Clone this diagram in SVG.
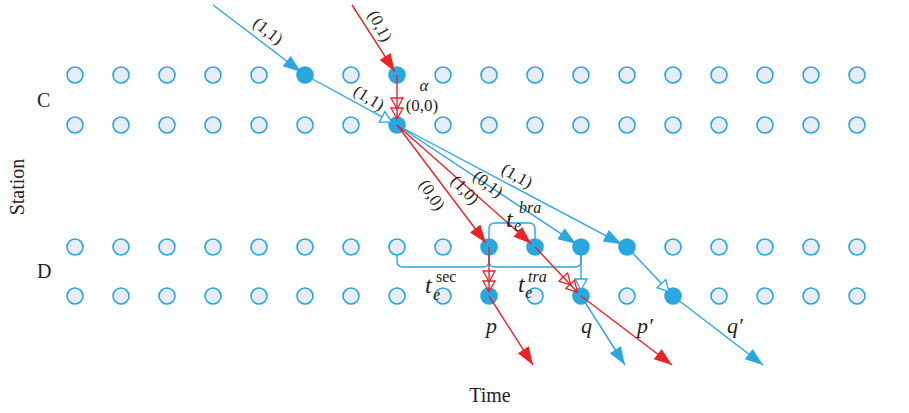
<svg xmlns="http://www.w3.org/2000/svg" width="909" height="413" viewBox="0 0 909 413">
<defs>
<style>
.dot{fill:#e6edf6;stroke:#2aa7df;stroke-width:1.6}
.on{fill:#2aa7df;stroke:#2aa7df;stroke-width:1.6}
.b{stroke:#2aa7df;stroke-width:1.4;fill:none}
.r{stroke:#ec2227;stroke-width:1.4;fill:none}
.t{font-family:"Liberation Serif",serif;fill:#231f20}
.lbl{font-size:17px}
.it{font-style:italic}
</style>
<marker id="fb" markerUnits="userSpaceOnUse" viewBox="-19 -8 20 16" markerWidth="20" markerHeight="16" refX="0" refY="0" orient="auto"><path d="M0,0 L-18,-6.5 L-18,6.5Z" fill="#2aa7df"/></marker>
<marker id="fr" markerUnits="userSpaceOnUse" viewBox="-19 -8 20 16" markerWidth="20" markerHeight="16" refX="0" refY="0" orient="auto"><path d="M0,0 L-18,-6.5 L-18,6.5Z" fill="#ec2227"/></marker>
<marker id="ob" markerUnits="userSpaceOnUse" viewBox="-14 -8 16 16" markerWidth="16" markerHeight="16" refX="0" refY="0" orient="auto"><path d="M0,0 L-11,-6 L-11,6Z" fill="#fff" stroke="#2aa7df" stroke-width="1.3"/></marker>
<marker id="or2" markerUnits="userSpaceOnUse" viewBox="-24 -8 26 16" markerWidth="26" markerHeight="16" refX="0" refY="0" orient="auto"><path d="M-10,0 L-21,-6 L-21,6Z M0,0 L-11,-6 L-11,6Z" fill="none" stroke="#ec2227" stroke-width="1.3"/></marker>
</defs>
<rect width="909" height="413" fill="#fff"/>
<g id="grid">
<g id="rowC1">
<circle class="dot" cx="75" cy="75" r="8"/><circle class="dot" cx="121" cy="75" r="8"/><circle class="dot" cx="167" cy="75" r="8"/><circle class="dot" cx="213" cy="75" r="8"/><circle class="dot" cx="259" cy="75" r="8"/><circle class="on" cx="305" cy="75" r="8"/><circle class="dot" cx="351" cy="75" r="8"/><circle class="on" cx="397" cy="75" r="8"/><circle class="dot" cx="443" cy="75" r="8"/><circle class="dot" cx="489" cy="75" r="8"/><circle class="dot" cx="535" cy="75" r="8"/><circle class="dot" cx="581" cy="75" r="8"/><circle class="dot" cx="627" cy="75" r="8"/><circle class="dot" cx="673" cy="75" r="8"/><circle class="dot" cx="719" cy="75" r="8"/><circle class="dot" cx="765" cy="75" r="8"/><circle class="dot" cx="811" cy="75" r="8"/><circle class="dot" cx="857" cy="75" r="8"/>
</g>
<g id="rowC2">
<circle class="dot" cx="75" cy="125" r="8"/><circle class="dot" cx="121" cy="125" r="8"/><circle class="dot" cx="167" cy="125" r="8"/><circle class="dot" cx="213" cy="125" r="8"/><circle class="dot" cx="259" cy="125" r="8"/><circle class="dot" cx="305" cy="125" r="8"/><circle class="dot" cx="351" cy="125" r="8"/><circle class="on" cx="397" cy="125" r="8"/><circle class="dot" cx="443" cy="125" r="8"/><circle class="dot" cx="489" cy="125" r="8"/><circle class="dot" cx="535" cy="125" r="8"/><circle class="dot" cx="581" cy="125" r="8"/><circle class="dot" cx="627" cy="125" r="8"/><circle class="dot" cx="673" cy="125" r="8"/><circle class="dot" cx="719" cy="125" r="8"/><circle class="dot" cx="765" cy="125" r="8"/><circle class="dot" cx="811" cy="125" r="8"/><circle class="dot" cx="857" cy="125" r="8"/>
</g>
<g id="rowD1">
<circle class="dot" cx="75" cy="247" r="8"/><circle class="dot" cx="121" cy="247" r="8"/><circle class="dot" cx="167" cy="247" r="8"/><circle class="dot" cx="213" cy="247" r="8"/><circle class="dot" cx="259" cy="247" r="8"/><circle class="dot" cx="305" cy="247" r="8"/><circle class="dot" cx="351" cy="247" r="8"/><circle class="dot" cx="397" cy="247" r="8"/><circle class="dot" cx="443" cy="247" r="8"/><circle class="on" cx="489" cy="247" r="8"/><circle class="on" cx="535" cy="247" r="8"/><circle class="on" cx="581" cy="247" r="8"/><circle class="on" cx="627" cy="247" r="8"/><circle class="dot" cx="673" cy="247" r="8"/><circle class="dot" cx="719" cy="247" r="8"/><circle class="dot" cx="765" cy="247" r="8"/><circle class="dot" cx="811" cy="247" r="8"/><circle class="dot" cx="857" cy="247" r="8"/>
</g>
<g id="rowD2">
<circle class="dot" cx="75" cy="296" r="8"/><circle class="dot" cx="121" cy="296" r="8"/><circle class="dot" cx="167" cy="296" r="8"/><circle class="dot" cx="213" cy="296" r="8"/><circle class="dot" cx="259" cy="296" r="8"/><circle class="dot" cx="305" cy="296" r="8"/><circle class="dot" cx="351" cy="296" r="8"/><circle class="dot" cx="397" cy="296" r="8"/><circle class="dot" cx="443" cy="296" r="8"/><circle class="on" cx="489" cy="296" r="8"/><circle class="dot" cx="535" cy="296" r="8"/><circle class="on" cx="581" cy="296" r="8"/><circle class="dot" cx="627" cy="296" r="8"/><circle class="on" cx="673" cy="296" r="8"/><circle class="dot" cx="719" cy="296" r="8"/><circle class="dot" cx="765" cy="296" r="8"/><circle class="dot" cx="811" cy="296" r="8"/><circle class="dot" cx="857" cy="296" r="8"/>
</g>
</g>
<g id="brackets">
<path class="b" d="M397,255 V261 Q397,267 403,267 H483 Q489,267 489,261 V247"/>
<path class="b" d="M489,247 V261 Q489,267 495,267 H575 Q581,267 581,261 V247"/>
<path class="b" d="M489,247 V229 Q489,223 495,223 H529 Q535,223 535,229 V239"/>
</g>
<g id="connectors">
<path class="b" d="M213,5 L301,72" marker-end="url(#fb)"/>
<path class="b" d="M305,75 L391.7,122.1" marker-end="url(#ob)"/>
<path class="r" d="M352,5 L394.8,71.6" marker-end="url(#fr)"/>
<path class="r" d="M397,75 L397,119" marker-end="url(#or2)"/>
<path class="b" d="M397,125 L576,243.7" marker-end="url(#fb)"/>
<path class="b" d="M397,125 L621.7,244.2" marker-end="url(#fb)"/>
<path class="r" d="M397,125 L486,243" marker-end="url(#fr)"/>
<path class="r" d="M397,125 L531.3,243.7" marker-end="url(#fr)"/>
<path class="b" d="M581,247 L581,290" marker-end="url(#ob)"/>
<path class="b" d="M627,247 L668.9,291.6" marker-end="url(#ob)"/>
<path class="r" d="M489,247 L489,292" marker-end="url(#or2)"/>
<path class="r" d="M535,247 L577.6,292.4" marker-end="url(#or2)"/>
<path class="b" d="M581,296 L625,365" marker-end="url(#fb)"/>
<path class="b" d="M673,296 L763,365" marker-end="url(#fb)"/>
<path class="r" d="M489,296 L533,365" marker-end="url(#fr)"/>
<path class="r" d="M581,296 L672,365" marker-end="url(#fr)"/>
</g>
<g id="labels" class="t">
<text class="lbl" text-anchor="middle" dominant-baseline="central" transform="translate(268,31) rotate(38)">(1,1)</text>
<text class="lbl" text-anchor="middle" dominant-baseline="central" transform="translate(380,26) rotate(62)">(0,1)</text>
<text class="lbl" text-anchor="middle" dominant-baseline="central" transform="translate(369,98) rotate(32)">(1,1)</text>
<text class="lbl it" x="424" y="91" text-anchor="middle">α</text>
<text class="lbl" x="422" y="111" text-anchor="middle">(0,0)</text>
<text class="lbl" text-anchor="middle" dominant-baseline="central" transform="translate(432,195) rotate(57)">(0,0)</text>
<text class="lbl" text-anchor="middle" dominant-baseline="central" transform="translate(465,190) rotate(47)">(1,0)</text>
<text class="lbl" text-anchor="middle" dominant-baseline="central" transform="translate(488,184) rotate(37)">(0,1)</text>
<text class="lbl" text-anchor="middle" dominant-baseline="central" transform="translate(517,176) rotate(30)">(1,1)</text>
<text class="it" x="506" y="227" font-size="24">t</text><text class="it" x="514" y="231" font-size="16">e</text><text class="it" x="519" y="213" font-size="16">bra</text>
<text class="it" x="425" y="293" font-size="24">t</text><text class="it" x="433" y="300" font-size="16">e</text><text x="436" y="282" font-size="16">sec</text>
<text class="it" x="518" y="292" font-size="24">t</text><text class="it" x="525" y="298" font-size="16">e</text><text class="it" x="528" y="282" font-size="16">tra</text>
<text class="it" x="486" y="333" font-size="22">p</text>
<text class="it" x="581" y="333" font-size="22">q</text>
<text class="it" x="637" y="333" font-size="22">p′</text>
<text class="it" x="727" y="333" font-size="22">q′</text>
<text x="37" y="107" font-size="20">C</text>
<text x="37" y="278" font-size="20">D</text>
<text x="490" y="402" font-size="20" text-anchor="middle">Time</text>
<text font-size="20" text-anchor="middle" transform="translate(24,187) rotate(-90)">Station</text>
</g>
</svg>
